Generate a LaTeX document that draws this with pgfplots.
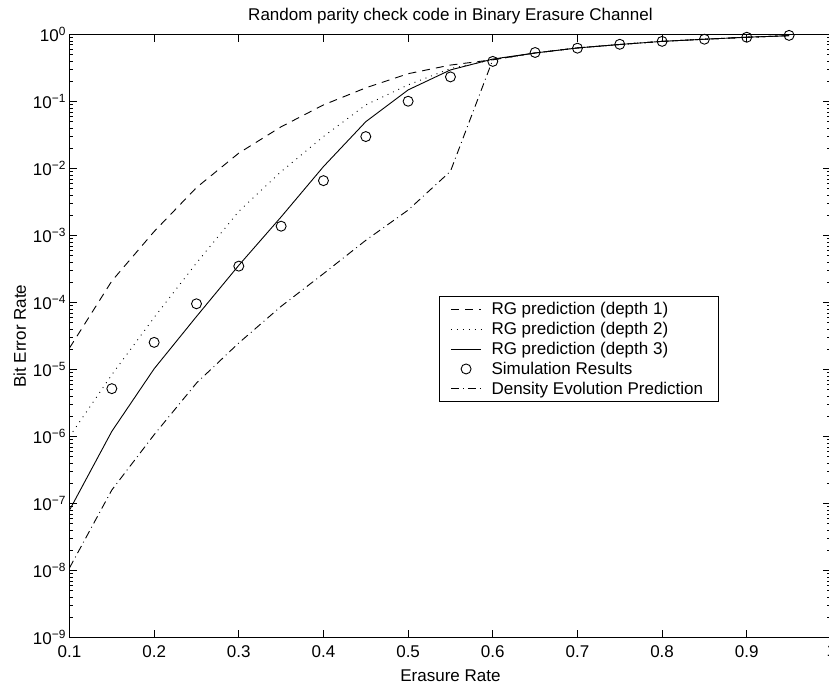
\documentclass[border=0pt]{standalone}
\usepackage{fontspec}
\setmainfont{Liberation Sans}
\usepackage{pgfplots}
\pgfplotsset{compat=1.18}

\newcommand{\fs}{\fontsize{17}{20}\selectfont}
\pgfplotsset{marklegend/.style={legend image code/.code={\draw[##1] plot coordinates {(15pt,0pt)};}}}

\begin{document}
\begin{tikzpicture}
\begin{axis}[name=ax, scale only axis, width=761.9pt, height=603.2pt,
  ymode=log, xmin=0.1, xmax=1, ymin=1e-9, ymax=1,
  xtick={0.1,0.2,0.3,0.4,0.5,0.6,0.7,0.8,0.9,1},
  xticklabels={0.1,0.2,0.3,0.4,0.5,0.6,0.7,0.8,0.9,1},
  ytick={1e-9,1e-8,1e-7,1e-6,1e-5,1e-4,1e-3,1e-2,1e-1,1},
  yticklabels={10\textsuperscript{−9},10\textsuperscript{−8},10\textsuperscript{−7},10\textsuperscript{−6},10\textsuperscript{−5},10\textsuperscript{−4},10\textsuperscript{−3},10\textsuperscript{−2},10\textsuperscript{−1},10\textsuperscript{0}},
  tick align=inside, major tick length=8pt, minor tick length=4pt,
  every tick/.style={black, line width=0.8pt},
  axis line style={line width=1.1pt},
  tick label style={font=\fs},
  xticklabel style={yshift=-4pt},
  label style={font=\fs},
  xlabel style={yshift=-6pt},
  title style={font=\fs, yshift=1pt},
  title={Random parity check code in Binary Erasure Channel},
  xlabel={Erasure Rate}, ylabel={Bit Error Rate},
  legend style={font=\fs, at={(0.485,0.5665)}, anchor=north west,
    draw=black, line width=1.2pt, inner xsep=11pt, inner ysep=4pt,
    row sep=2pt, cells={anchor=west, inner xsep=0pt, inner ysep=0pt},
    /tikz/every odd column/.append style={column sep=8pt}},
  legend image code/.code={\draw[#1, line width=0.9pt] (0pt,0pt) -- (30pt,0pt);},
  every axis plot/.append style={black, line width=0.9pt}]

\addplot[dash pattern=on 8pt off 6pt] coordinates {
(0.10,2.1e-5) (0.15,2.1e-4) (0.20,1.15e-3) (0.25,5.2e-3) (0.30,1.7e-2)
(0.35,4.2e-2) (0.40,8.9e-2) (0.45,0.16) (0.50,0.26) (0.55,0.35)
(0.60,0.42) (0.65,0.53) (0.70,0.63) (0.75,0.71) (0.80,0.79)
(0.85,0.85) (0.90,0.91) (0.95,0.96)};
\addlegendentry{RG prediction (depth 1)}

\addplot[dash pattern=on 0.9pt off 5pt] coordinates {
(0.10,1.0e-6) (0.15,8.4e-6) (0.20,6.0e-5) (0.25,3.9e-4) (0.30,2.3e-3)
(0.35,9.0e-3) (0.40,3.0e-2) (0.45,8.9e-2) (0.50,0.177) (0.55,0.31)
(0.60,0.42) (0.65,0.53) (0.70,0.63) (0.75,0.71) (0.80,0.79)
(0.85,0.85) (0.90,0.91) (0.95,0.96)};
\addlegendentry{RG prediction (depth 2)}

\addplot[solid] coordinates {
(0.10,8.0e-8) (0.15,1.2e-6) (0.20,1.03e-5) (0.25,6.2e-5) (0.30,3.6e-4)
(0.35,1.9e-3) (0.40,1.07e-2) (0.45,5.0e-2) (0.50,0.149) (0.55,0.296)
(0.60,0.43) (0.65,0.53) (0.70,0.63) (0.75,0.71) (0.80,0.79)
(0.85,0.85) (0.90,0.91) (0.95,0.96)};
\addlegendentry{RG prediction (depth 3)}

\addplot[only marks, mark=o, mark size=5pt, mark options={line width=0.9pt}, marklegend] coordinates {
(0.15,5.2e-6) (0.20,2.55e-5) (0.25,9.6e-5) (0.30,3.5e-4) (0.35,1.38e-3)
(0.40,6.6e-3) (0.45,0.030) (0.50,0.101) (0.55,0.233) (0.60,0.397)
(0.65,0.539) (0.70,0.625) (0.75,0.714) (0.80,0.79) (0.85,0.85)
(0.90,0.91) (0.95,0.97)};
\addlegendentry{Simulation Results}

\addplot[dash pattern=on 8pt off 4pt on 0.9pt off 4pt] coordinates {
(0.10,1.1e-8) (0.15,1.6e-7) (0.20,1.07e-6) (0.25,6.3e-6) (0.30,2.5e-5)
(0.35,8.8e-5) (0.40,2.7e-4) (0.45,8.5e-4) (0.50,2.4e-3) (0.55,9.1e-3)
(0.60,0.42) (0.65,0.53) (0.70,0.63) (0.75,0.71) (0.80,0.79)
(0.85,0.85) (0.90,0.91) (0.95,0.96)};
\addlegendentry{Density Evolution Prediction\hspace*{2pt}}
\end{axis}
\pgfresetboundingbox
\path ([xshift=-69.5pt,yshift=-46.3pt]ax.south west) rectangle ([xshift=-2.4pt,yshift=34.5pt]ax.north east);
\end{tikzpicture}
\end{document}
